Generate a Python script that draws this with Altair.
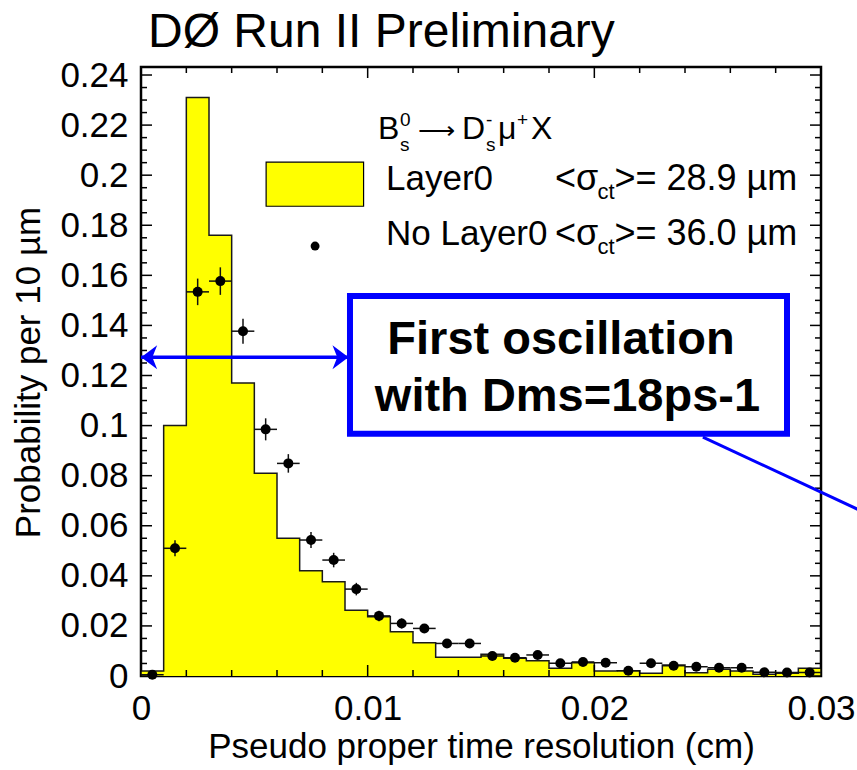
import altair as alt
import pandas as pd

# ---------------- data ----------------
bin_lo = [round(i * 0.001, 3) for i in range(30)]          # bin lower edges (cm)
bin_hi = [round(v + 0.001, 3) for v in bin_lo]
bin_mid = [round(v + 0.0005, 4) for v in bin_lo]

layer0 = [0.002, 0.100, 0.231, 0.176, 0.117, 0.081, 0.055, 0.042, 0.0376, 0.0263,
          0.0237, 0.0177, 0.0133, 0.0075, 0.0075, 0.0087, 0.0071, 0.0061, 0.0031, 0.0053,
          0.0020, 0.0021, 0.0011, 0.0044, 0.0013, 0.0027, 0.0020, 0.0007, 0.0011, 0.0031]

nolayer0 = [0.0005, 0.051, 0.1534, 0.1577, 0.1377, 0.0985, 0.0849, 0.0543, 0.0463, 0.0347,
            0.024, 0.021, 0.019, 0.013, 0.013, 0.008, 0.0073, 0.0084, 0.0051, 0.0056,
            0.0053, 0.0021, 0.0051, 0.0041, 0.0037, 0.0033, 0.0033, 0.0015, 0.0014, 0.0014]

nolayer0_err = [0.0004, 0.0032, 0.0053, 0.0055, 0.005, 0.0044, 0.0037, 0.0032, 0.0029, 0.0025,
                0.0021, 0.002, 0.0017, 0.0015, 0.0015, 0.0012, 0.0012, 0.0012, 0.001, 0.001,
                0.001, 0.0008, 0.001, 0.0009, 0.0009, 0.0008, 0.0008, 0.0006, 0.0006, 0.0006]

x_major = [0, 0.01, 0.02, 0.03]
x_minor = [round(0.002 * i, 3) for i in range(16) if i % 5 != 0]
y_major = [round(0.02 * i, 2) for i in range(13)]
y_minor = [round(0.005 * i, 3) for i in range(49) if i % 4 != 0]

XMAX = 0.03
YMAX = 0.2432
W, H = 680, 609
FONT = "Liberation Sans"
YELLOW = "#ffff00"
BLUE = "#0000ff"

xs = alt.Scale(domain=[0, XMAX], nice=False, zero=False)
ys = alt.Scale(domain=[0, YMAX], nice=False, zero=False)


def X(field, **kw):
    return alt.X(field, type="quantitative", scale=xs, **kw)


def Y(field, **kw):
    return alt.Y(field, type="quantitative", scale=ys, **kw)


# ---------------- histogram ----------------
hist_df = pd.DataFrame({"x": bin_lo + [XMAX], "y": layer0 + [layer0[-1]]})

area = alt.Chart(hist_df).mark_area(interpolate="step-after", color=YELLOW, opacity=1).encode(
    x=X("x", axis=alt.Axis(
        values=x_major,
        labelExpr="datum.value == 0 ? '0' : format(datum.value, '.2f')",
        title="Pseudo proper time resolution (cm)",
        labelFont=FONT, titleFont=FONT, labelFontSize=35, titleFontSize=35,
        titleFontWeight="normal", labelColor="black", titleColor="black",
        labelPadding=15, ticks=False, tickSize=0, domain=False, grid=False,
        labelFlush=False, labelOverlap=False,
        titleY=81, titleBaseline="alphabetic")),
    y=Y("y", axis=alt.Axis(
        values=y_major,
        labelExpr="format(datum.value, '~g')",
        title="Probability per 10 µm",
        labelFont=FONT, titleFont=FONT, labelFontSize=35, titleFontSize=35,
        titleFontWeight="normal", labelColor="black", titleColor="black",
        labelPadding=13, ticks=False, tickSize=0, domain=False, grid=False,
        labelFlush=False, labelOverlap=False,
        titleX=-102, titleY=305, titleBaseline="alphabetic")),
    y2=alt.datum(0),
)

outline = alt.Chart(hist_df).mark_line(interpolate="step-after", color="#1a1a1a", strokeWidth=1.5).encode(
    x=X("x"), y=Y("y"),
)

# ---------------- ticks (inward, all four sides) ----------------
def yticks(vals, length):
    d = pd.DataFrame({"v": vals})
    left = alt.Chart(d).mark_rule(color="black", strokeWidth=1.5).encode(
        y=Y("v"), x=alt.value(0), x2=alt.value(length))
    right = alt.Chart(d).mark_rule(color="black", strokeWidth=1.5).encode(
        y=Y("v"), x=alt.value(W), x2=alt.value(W - length))
    return [left, right]


def xticks(vals, length):
    d = pd.DataFrame({"v": vals})
    bottom = alt.Chart(d).mark_rule(color="black", strokeWidth=1.5).encode(
        x=X("v"), y=alt.value(H), y2=alt.value(H - length))
    top = alt.Chart(d).mark_rule(color="black", strokeWidth=1.5).encode(
        x=X("v"), y=alt.value(0), y2=alt.value(length))
    return [bottom, top]


tick_layers = yticks(y_major, 11) + yticks(y_minor, 6) + xticks(x_major, 11) + xticks(x_minor, 6)

# ---------------- No Layer0 points ----------------
pts_df = pd.DataFrame({
    "lo": bin_lo, "hi": bin_hi, "mid": bin_mid, "v": nolayer0,
    "elo": [v - e for v, e in zip(nolayer0, nolayer0_err)],
    "ehi": [v + e for v, e in zip(nolayer0, nolayer0_err)],
})
hbar = alt.Chart(pts_df).mark_rule(color="#111111", strokeWidth=1.5).encode(
    x=X("lo"), x2="hi:Q", y=Y("v"))
vbar = alt.Chart(pts_df).mark_rule(color="#111111", strokeWidth=1.5).encode(
    x=X("mid"), y=Y("elo"), y2="ehi:Q")
dots = alt.Chart(pts_df).mark_circle(color="black", size=100, opacity=1).encode(
    x=X("mid"), y=Y("v"))

# ---------------- legend ----------------
leg_box = alt.Chart(pd.DataFrame({"x": [0.00552], "x2": [0.00982], "y": [0.2052], "y2": [0.1876]})).mark_rect(
    fill=YELLOW, stroke="black", strokeWidth=1.2).encode(
    x=X("x"), x2="x2:Q", y=Y("y"), y2="y2:Q")
leg_dot = alt.Chart(pd.DataFrame({"x": [0.00768], "y": [0.1717]})).mark_circle(
    color="black", size=80, opacity=1).encode(x=X("x"), y=Y("y"))

label_text = ["DØ Run II Preliminary",
              "B", "0", "s", "⟶", "D", "-", "s", "μ", "+", "X",
              "Layer0", "<σ", "ct", ">= 28.9 µm",
              "No Layer0", "<σ", "ct", ">= 36.0 µm"]
label_x = [0.00031,
           0.010456, 0.011427, 0.011427, 0.012220, 0.014162, 0.015221, 0.015221, 0.015750, 0.016588, 0.017206,
           0.010809, 0.018260, 0.020140, 0.020890,
           0.010809, 0.018260, 0.020140, 0.020890]
label_y = [0.2513,
           0.21444, 0.21963, 0.20965, 0.21444, 0.21444, 0.21963, 0.20965, 0.21444, 0.21963, 0.21444,
           0.19407, 0.19407, 0.19048, 0.19407,
           0.17211, 0.17211, 0.16852, 0.17211]
label_size = [48,
              32, 19, 19, 26, 32, 19, 19, 32, 19, 32,
              35, 36, 22, 36,
              35, 36, 22, 36]
txt_df = pd.DataFrame({"x": label_x, "y": label_y, "t": label_text, "s": label_size})
texts = alt.Chart(txt_df).mark_text(align="left", baseline="alphabetic", font=FONT, color="black").encode(
    x=X("x"), y=Y("y"),
    text="t:N", size=alt.Size("s:Q", scale=None, legend=None))

# ---------------- annotation box & arrows ----------------
box = alt.Chart(pd.DataFrame({"x": [0.00922], "x2": [0.0285], "y": [0.1518], "y2": [0.0967]})).mark_rect(
    fill="white", stroke=BLUE, strokeWidth=6).encode(
    x=X("x"), x2="x2:Q", y=Y("y"), y2="y2:Q")
box_text = alt.Chart(pd.DataFrame({
    "x": [0.01853, 0.018816], "y": [0.12858, 0.10594],
    "t": ["First oscillation", "with Dms=18ps-1"]})).mark_text(
    align="center", baseline="alphabetic", font=FONT, fontWeight="bold", fontSize=47, color="black").encode(
    x=X("x"), y=Y("y"), text="t:N")

arrow_line = alt.Chart(pd.DataFrame({"x": [0.0], "x2": [0.0091], "y": [0.1273]})).mark_rule(
    color=BLUE, strokeWidth=3.5).encode(x=X("x"), x2="x2:Q", y=Y("y"))
heads = alt.Chart(pd.DataFrame({
    "x": [0.00036, 0.00880], "y": [0.1273, 0.1273],
    "shape": ["M-1,0L1,-1.5L0.4,0L1,1.5Z", "M1,0L-1,-1.5L-0.4,0L-1,1.5Z"]})).mark_point(
    filled=True, color=BLUE, size=256, opacity=1, strokeWidth=0).encode(
    x=X("x"), y=Y("y"),
    shape=alt.Shape("shape:N", scale=None, legend=None))
diag = alt.Chart(pd.DataFrame({"x": [0.02479], "y": [0.0954], "x2": [0.0322], "y2": [0.0641]})).mark_rule(
    color=BLUE, strokeWidth=3).encode(x=X("x"), x2="x2:Q", y=Y("y"), y2="y2:Q")

chart = alt.layer(
    area, outline, *tick_layers, hbar, vbar, dots,
    leg_box, leg_dot, texts, box, box_text, arrow_line, heads, diag
).properties(
    width=W, height=H,
    autosize=alt.AutoSizeParams(type="none"),
    padding={"left": 141, "top": 67, "right": 36, "bottom": 94},
    background="white",
).configure_view(stroke="black", strokeWidth=2.5)

chart.save("out.html", embed_options={"renderer": "svg", "actions": False})
